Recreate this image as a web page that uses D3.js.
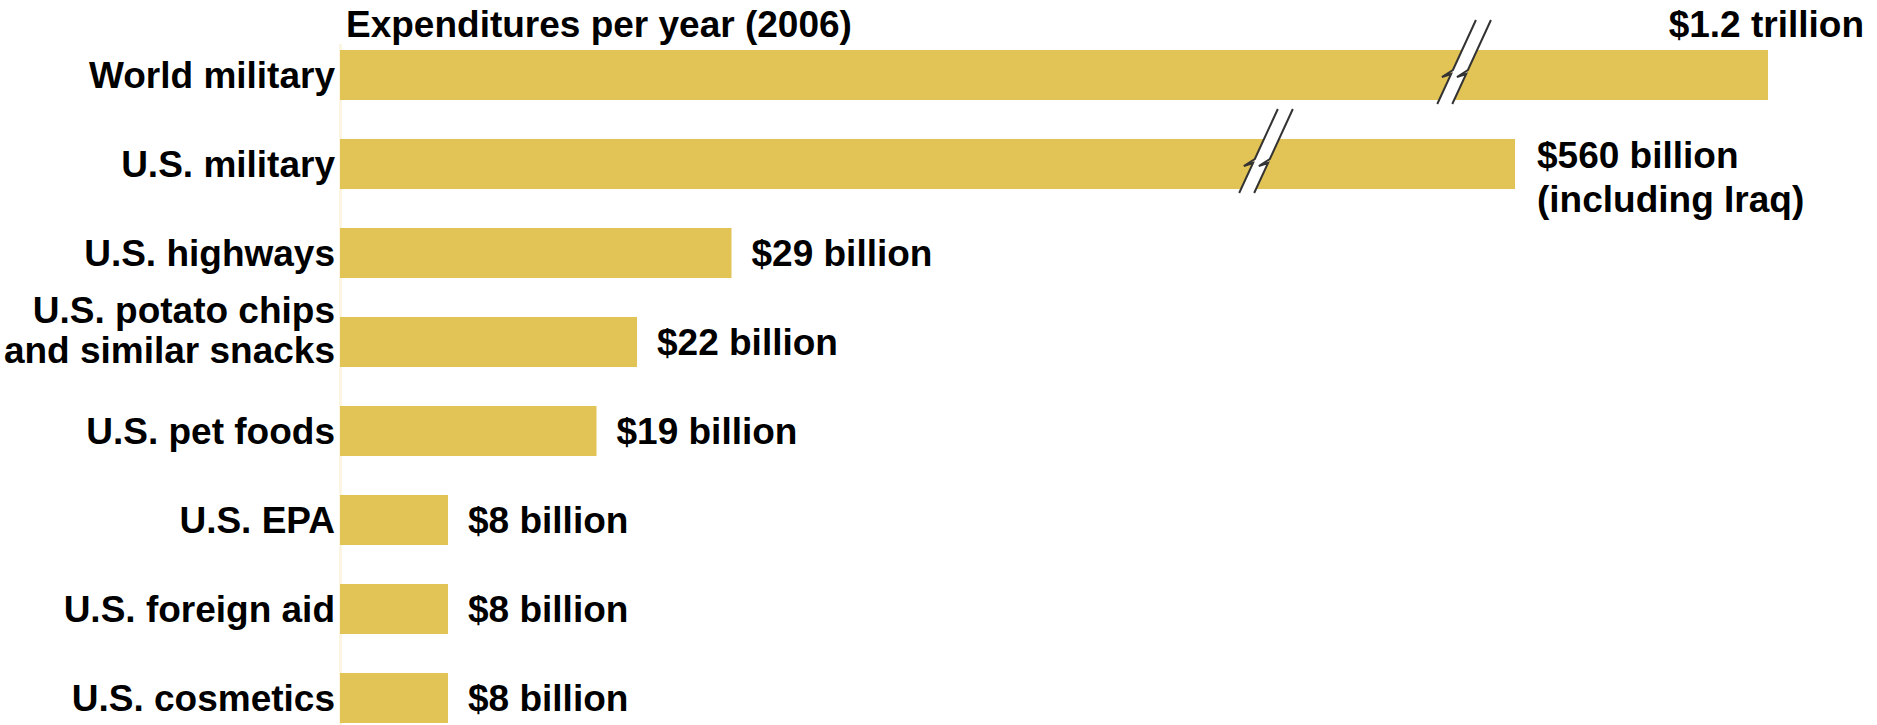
<!DOCTYPE html>
<html>
<head>
<meta charset="utf-8">
<script src="https://cdn.jsdelivr.net/npm/d3@7"></script>
<style>
  html, body { margin: 0; padding: 0; background: #fff; }
  svg { display: block; }
  text { font-family: "Liberation Sans", Arial, Helvetica, sans-serif; font-weight: bold; fill: #000; }
</style>
</head>
<body>
<svg id="chart" width="1877" height="725"></svg>
<script>
// Annual spending, 2006, in billions of US dollars
const categories = [
  "World military",
  "U.S. military",
  "U.S. highways",
  "U.S. potato chips\nand similar snacks",
  "U.S. pet foods",
  "U.S. EPA",
  "U.S. foreign aid",
  "U.S. cosmetics"
];
const values = [1200, 560, 29, 22, 19, 8, 8, 8];
const valueLabels = [
  "$1.2 trillion",
  "$560 billion\n(including Iraq)",
  "$29 billion",
  "$22 billion",
  "$19 billion",
  "$8 billion",
  "$8 billion",
  "$8 billion"
];
const title = "Expenditures per year (2006)";
// Values above this are drawn with a broken bar
const breakThreshold = 30;

const W = 1877, H = 725;
const barColor = "#E2C356";
const fontSize = 37;

const svg = d3.select("#chart");

const rows = categories.map((c, i) => ({ cat: c, value: values[i], label: valueLabels[i], i }));

// Linear up to the break threshold, compressed beyond it for the two military bars
const x = d3.scaleLinear()
  .domain([0, breakThreshold, 560, 1200])
  .range([340, 745, 1515, 1768]);

const y = d3.scaleBand()
  .domain(categories)
  .range([50, 723])
  .paddingInner(0.438)
  .paddingOuter(0);

const x0 = x(0);

// faint baseline at the bars' left edge
svg.append("line")
  .attr("x1", x0 + 0.5).attr("x2", x0 + 0.5)
  .attr("y1", 44).attr("y2", H)
  .attr("stroke", "#fbf5e2").attr("stroke-width", 3);

// title
svg.append("text")
  .attr("x", x0 + 6)
  .attr("y", 37)
  .attr("font-size", fontSize)
  .text(title);

// bars
svg.append("g").selectAll("rect")
  .data(rows)
  .join("rect")
  .attr("x", x0)
  .attr("y", d => y(d.cat))
  .attr("width", d => x(d.value) - x0)
  .attr("height", y.bandwidth())
  .attr("fill", barColor);

// break marks on the bars that exceed the linear range
const broken = rows.filter(d => d.value > breakThreshold);
const slope = 0.46;   // horizontal shift per pixel of height
const gap = 15;
const brk = svg.append("g");
broken.forEach(d => {
  const top = y(d.cat), bh = y.bandwidth();
  const cy = top + bh / 2;
  const cx = x0 + 0.783 * (x(d.value) - x0);
  const yt = top - 30, yb = top + bh + 4;
  const lineX = (yy, off) => cx + off + (cy - yy) * slope;

  // white gap between the two slashes
  brk.append("path")
    .attr("d", `M${lineX(yt, -gap / 2)},${yt} L${lineX(yt, gap / 2)},${yt} L${lineX(yb, gap / 2)},${yb} L${lineX(yb, -gap / 2)},${yb} Z`)
    .attr("fill", "#fff");

  // each slash carries a small lightning-style kink at the bar's middle
  [-gap / 2, gap / 2].forEach(off => {
    const a = [lineX(cy - 5, off), cy - 5];
    const b = [a[0] - 11, cy + 2];
    const c = [lineX(cy + 1, off) + 1, cy - 1];
    const p = d3.path();
    p.moveTo(lineX(yt, off), yt);
    p.lineTo(a[0], a[1]);
    p.lineTo(b[0], b[1]);
    p.lineTo(c[0], c[1]);
    p.lineTo(lineX(yb, off), yb);
    brk.append("path")
      .attr("d", p.toString())
      .attr("fill", "none")
      .attr("stroke", "#333")
      .attr("stroke-width", 2)
      .attr("stroke-linejoin", "miter");
  });
});

// category labels (right-aligned left of the bars)
const catG = svg.append("g");
rows.forEach(d => {
  const lines = d.cat.split("\n");
  const cy = y(d.cat) + y.bandwidth() / 2;
  const t = catG.append("text")
    .attr("text-anchor", "end")
    .attr("font-size", fontSize)
    .attr("x", x0 - 5);
  if (lines.length === 1) {
    t.attr("y", cy).attr("dy", "0.35em").text(lines[0]);
  } else {
    lines.forEach((ln, k) => {
      t.append("tspan")
        .attr("x", x0 - 5)
        .attr("y", cy - 19 + k * 40)
        .text(ln);
    });
  }
});

// value labels
const valG = svg.append("g");
rows.forEach(d => {
  const lines = d.label.split("\n");
  const cy = y(d.cat) + y.bandwidth() / 2;
  if (d.i === 0) {
    // the longest bar: label sits above its end, on the title line
    valG.append("text")
      .attr("text-anchor", "end")
      .attr("font-size", fontSize)
      .attr("x", W - 13)
      .attr("y", 37)
      .text(d.label);
  } else if (lines.length > 1) {
    const t = valG.append("text").attr("font-size", fontSize);
    lines.forEach((ln, k) => {
      t.append("tspan")
        .attr("x", x(d.value) + 22)
        .attr("y", cy + 4 + k * 44)
        .text(ln);
    });
  } else {
    valG.append("text")
      .attr("font-size", fontSize)
      .attr("x", x(d.value) + 20)
      .attr("y", cy)
      .attr("dy", "0.35em")
      .text(d.label);
  }
});
</script>
</body>
</html>
